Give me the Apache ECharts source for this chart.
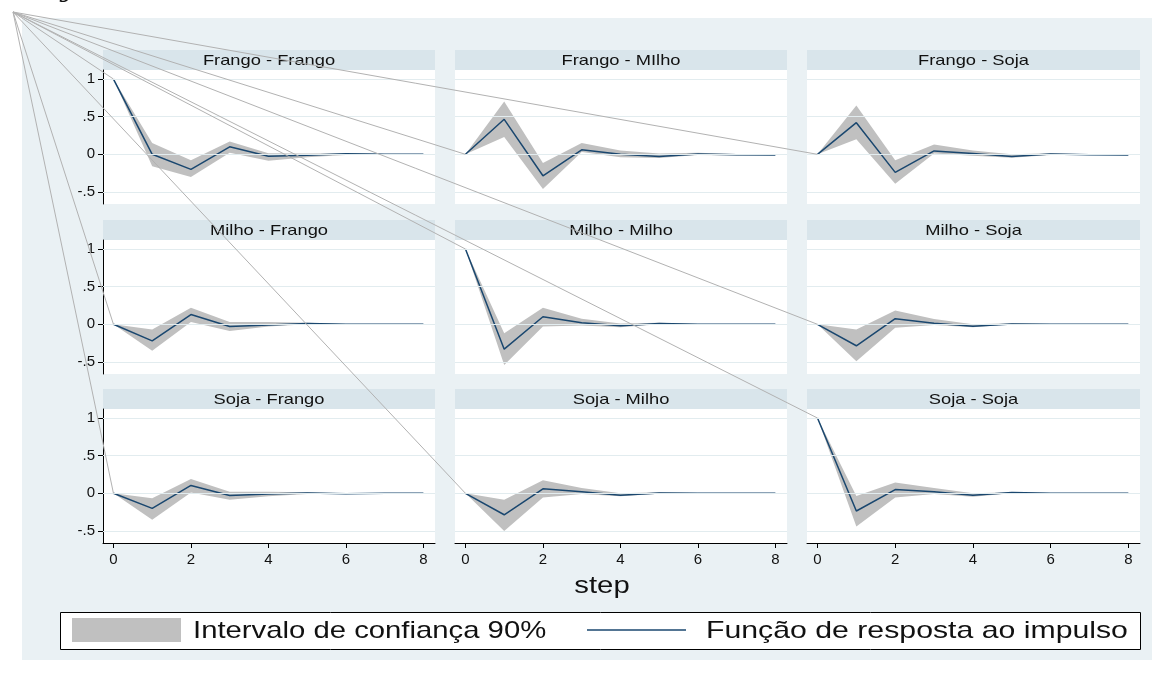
<!DOCTYPE html>
<html>
<head>
<meta charset="utf-8">
<script src="https://cdn.jsdelivr.net/npm/echarts@6/dist/echarts.min.js"></script>
<style>html,body{margin:0;padding:0;background:#fff;}#c{width:1165px;height:673px;}</style>
</head>
<body>
<div id="c"></div>
<script>
// ---- data ----
const steps = [0, 1, 2, 3, 4, 5, 6, 7, 8];
const xTicks = [0, 2, 4, 6, 8];
const yTicks = [-0.5, 0, 0.5, 1];
const titles = ['Frango - Frango', 'Frango - MIlho', 'Frango - Soja',
                'Milho - Frango', 'Milho - Milho', 'Milho - Soja',
                'Soja - Frango', 'Soja - Milho', 'Soja - Soja'];
const legendBand = 'Intervalo de confiança 90%';
const legendLine = 'Função de resposta ao impulso';
const xTitle = 'step';

const irfFF = [1, 0, -0.2, 0.1, -0.027, -0.013, 0.008, 0, 0];
const loFF  = [1, -0.16, -0.3, 0.02, -0.085, -0.04, -0.01, -0.005, 0];
const hiFF  = [1, 0.15, -0.08, 0.17, 0.013, 0.01, 0.015, 0.005, 0];

const irfFM = [0, 0.465, -0.285, 0.06, 0, -0.03, 0.005, -0.005, -0.01];
const loFM  = [0, 0.23, -0.46, 0.03, -0.04, -0.05, -0.01, -0.015, -0.01];
const hiFM  = [0, 0.70, -0.115, 0.15, 0.05, 0.01, 0.02, 0.005, -0.01];

const irfFS = [0, 0.42, -0.24, 0.045, 0.01, -0.03, 0.005, -0.005, -0.01];
const loFS  = [0, 0.2, -0.39, 0.01, -0.02, -0.045, -0.01, -0.01, -0.01];
const hiFS  = [0, 0.65, -0.08, 0.13, 0.05, 0.0, 0.015, 0.0, -0.01];

const irfMF = [0, -0.22, 0.13, -0.03, -0.01, 0.01, 0, 0, 0];
const loMF  = [0, -0.35, 0.03, -0.09, -0.03, 0.0, -0.005, 0, 0];
const hiMF  = [0, -0.07, 0.22, 0.03, 0.03, 0.02, 0.005, 0, 0];

const irfMM = [1, -0.33, 0.1, 0.02, -0.02, 0.01, 0, 0, 0];
const loMM  = [1, -0.54, -0.03, -0.015, -0.04, 0.0, -0.005, 0, 0];
const hiMM  = [1, -0.12, 0.22, 0.075, 0.01, 0.02, 0.005, 0, 0];

const irfMS = [0, -0.285, 0.075, 0.015, -0.025, 0.005, 0, 0, 0];
const loMS  = [0, -0.49, -0.045, -0.01, -0.04, 0.0, -0.005, 0, 0];
const hiMS  = [0, -0.07, 0.185, 0.07, 0.0, 0.015, 0.005, 0, 0];

const irfSF = [0, -0.2, 0.105, -0.03, -0.01, 0.005, -0.005, 0, 0];
const loSF  = [0, -0.35, 0.01, -0.085, -0.04, -0.01, -0.01, 0, 0];
const hiSF  = [0, -0.065, 0.19, 0.02, 0.02, 0.015, 0.0, 0, 0];

const irfSM = [0, -0.285, 0.06, 0.02, -0.025, 0.005, 0, 0, 0];
const loSM  = [0, -0.5, -0.055, -0.01, -0.04, -0.005, -0.005, 0, 0];
const hiSM  = [0, -0.085, 0.175, 0.07, 0.0, 0.015, 0.005, 0, 0];

const irfSS = [1, -0.235, 0.05, 0.02, -0.025, 0.01, 0, 0, 0];
const loSS  = [1, -0.44, -0.055, -0.01, -0.045, 0.0, -0.005, 0, 0];
const hiSS  = [1, -0.035, 0.145, 0.07, 0.0, 0.015, 0.005, 0, 0];

const panels = [
  {irf: irfFF, lo: loFF, hi: hiFF}, {irf: irfFM, lo: loFM, hi: hiFM}, {irf: irfFS, lo: loFS, hi: hiFS},
  {irf: irfMF, lo: loMF, hi: hiMF}, {irf: irfMM, lo: loMM, hi: hiMM}, {irf: irfMS, lo: loMS, hi: hiMS},
  {irf: irfSF, lo: loSF, hi: hiSF}, {irf: irfSM, lo: loSM, hi: hiSM}, {irf: irfSS, lo: loSS, hi: hiSS}
];

// ---- layout / style ----
const FONT = '"Liberation Sans", Arial, Helvetica, sans-serif';
const colLeft = [103, 455, 807];
const colWidth = [332, 332, 333];
const rowTop = [70, 240, 409];
const plotH = 134;
const stripH = 20;
const SX = 1.22; // horizontal stretch of the reference text
const bandColor = '#c0c0c0';
const lineColor = '#1a476f';

const chart = echarts.init(document.getElementById('c'), null, {renderer: 'canvas'});

const grids = [], xAxes = [], yAxes = [], series = [], graphics = [];

graphics.push({id: 'bg', type: 'rect', z: -100, shape: {x: 22, y: 18, width: 1130, height: 642}, style: {fill: '#eaf1f4'}});

panels.forEach((p, i) => {
  const col = i % 3, row = Math.floor(i / 3);
  grids.push({left: colLeft[col], top: rowTop[row], width: colWidth[col], height: plotH,
              show: true, backgroundColor: '#ffffff', borderWidth: 0});
  const showX = row === 2, showY = col === 0;
  xAxes.push({
    type: 'value', gridIndex: i, min: -0.27, max: 8.3,
    axisLine: {show: showX, onZero: false, lineStyle: {color: '#000', width: 1}},
    axisTick: {show: showX, customValues: xTicks, length: 5, lineStyle: {color: '#000'}},
    axisLabel: {show: showX, customValues: xTicks, fontSize: 15, color: '#111', fontFamily: FONT, margin: 9},
    splitLine: {show: false}
  });
  yAxes.push({
    type: 'value', gridIndex: i, min: -0.66, max: 1.12,
    axisLine: {show: showY, onZero: false, lineStyle: {color: '#000', width: 1}},
    axisTick: {show: showY, customValues: yTicks, length: 5, lineStyle: {color: '#000'}},
    axisLabel: {show: showY, customValues: yTicks, fontSize: 15, color: '#111', fontFamily: FONT, margin: 8,
                formatter: v => v === 0 ? '0' : String(v).replace('0.', '.')},
    splitLine: {show: false}
  });
  // grid lines at tick values
  series.push({
    type: 'line', xAxisIndex: i, yAxisIndex: i, z: 1, silent: true, showSymbol: false,
    data: steps.map((s, k) => [s, p.irf[k]]), lineStyle: {opacity: 0},
    markLine: {silent: true, symbol: ['none', 'none'], label: {show: false},
               lineStyle: {color: '#e2ecef', width: 1, type: 'solid'},
               data: yTicks.map(v => ({yAxis: v}))}
  });
  // confidence band
  series.push({
    type: 'custom', xAxisIndex: i, yAxisIndex: i, z: 2, silent: true,
    data: [[0, 0]],
    renderItem: function (params, api) {
      if (params.dataIndex !== 0) return;
      const up = steps.map((s, k) => api.coord([s, p.hi[k]]));
      const dn = steps.map((s, k) => api.coord([s, p.lo[k]])).reverse();
      return {type: 'polygon', shape: {points: up.concat(dn)}, style: {fill: bandColor}};
    }
  });
  // impulse response
  series.push({
    type: 'line', xAxisIndex: i, yAxisIndex: i, z: 3, showSymbol: false, silent: true,
    data: steps.map((s, k) => [s, p.irf[k]]),
    lineStyle: {color: lineColor, width: 1.5}
  });
  // strip + title
  graphics.push({id: 'strip' + i, type: 'rect', z: 0,
    shape: {x: colLeft[col], y: rowTop[row] - stripH, width: colWidth[col], height: stripH},
    style: {fill: '#d9e5eb'}});
  graphics.push({id: 'title' + i, type: 'text', z: 1,
    x: colLeft[col] + colWidth[col] / 2, y: rowTop[row] - stripH / 2 + 0.5, scaleX: SX,
    style: {text: titles[i], font: '15px ' + FONT, fill: '#111', textAlign: 'center', textVerticalAlign: 'middle'}});
});

// x title
graphics.push({id: 'xtitle', type: 'text', z: 1, x: 602, y: 586, scaleX: SX,
  style: {text: xTitle, font: '24px ' + FONT, fill: '#111', textAlign: 'center', textVerticalAlign: 'middle'}});
// legend
graphics.push({id: 'legbox', type: 'rect', z: 1, shape: {x: 60.5, y: 612.5, width: 1080, height: 37},
  style: {fill: '#fff', stroke: '#000', lineWidth: 1}});
graphics.push({id: 'legpatch', type: 'rect', z: 2, shape: {x: 72, y: 618, width: 109, height: 24},
  style: {fill: bandColor}});
graphics.push({id: 'legtxt1', type: 'text', z: 2, x: 193, y: 631, scaleX: SX,
  style: {text: legendBand, font: '24px ' + FONT, fill: '#111', textAlign: 'left', textVerticalAlign: 'middle'}});
graphics.push({id: 'legline', type: 'line', z: 2, shape: {x1: 587, y1: 630, x2: 686, y2: 630},
  style: {stroke: lineColor, lineWidth: 1.5}});
graphics.push({id: 'legtxt2', type: 'text', z: 2, x: 706, y: 631, scaleX: 1.26,
  style: {text: legendLine, font: '24px ' + FONT, fill: '#111', textAlign: 'left', textVerticalAlign: 'middle'}});
// clipped "y" at top
graphics.push({id: 'ylab', type: 'text', z: 2, x: 60, y: -9,
  style: {text: 'y', font: 'italic bold 24px "DejaVu Serif", serif', fill: '#111', textAlign: 'left', textVerticalAlign: 'middle'}});

chart.setOption({
  animation: false,
  backgroundColor: '#ffffff',
  grid: grids, xAxis: xAxes, yAxis: yAxes, series: series,
  graphic: {elements: graphics}
});

// stray connector lines of the reference, from the corner to each panel's first point
const origin = [13, 12];
const extra = panels.map((p, i) => {
  const pt = chart.convertToPixel({gridIndex: i}, [steps[0], p.irf[0]]);
  return {id: 'ray' + i, type: 'line', z: 50, silent: true,
    shape: {x1: origin[0], y1: origin[1], x2: pt[0], y2: pt[1]},
    style: {stroke: '#b2b2b2', lineWidth: 1}};
});
chart.setOption({graphic: {elements: extra}});
</script>
</body>
</html>
